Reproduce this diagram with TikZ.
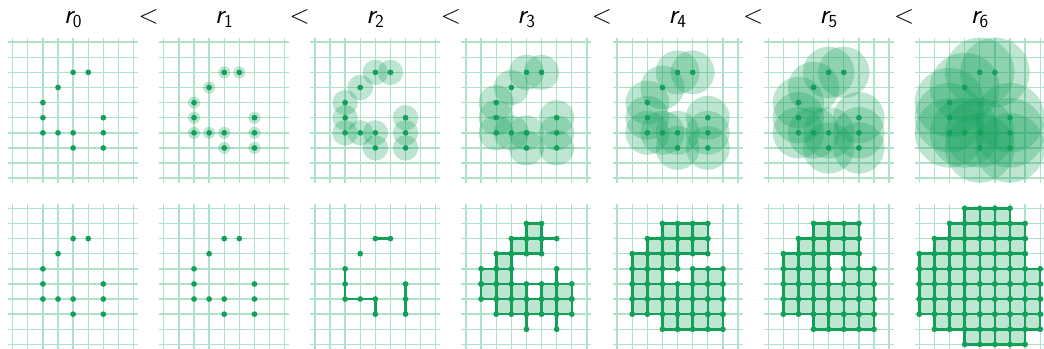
\documentclass[tikz,border=0pt]{standalone}
\definecolor{ptgreen}{HTML}{12A05A}
\definecolor{gridgreen}{HTML}{B0E2CA}
\definecolor{cellgreen}{HTML}{BCE6CF}

\begin{document}
\begin{tikzpicture}[
  x=5mm,y=5mm,font=\sffamily\fontsize{26}{30}\selectfont,
  gridline/.style={draw=gridgreen,line width=1.3pt,step=1},
  ball/.style={fill=ptgreen,fill opacity=.28},
  site/.style={fill=ptgreen},
  cellfill/.style={fill=cellgreen},
  celledge/.style={draw=ptgreen,line width=2.4pt,step=1},
  title/.style={anchor=base,inner sep=0pt}
]
\path[use as bounding box] (-0.84,-0.245) rectangle (68.25,22.79);

% grids, top and bottom row
\foreach \k in {0,...,6}
  \foreach \y in {0,11}
    \draw[gridline] (10*\k-0.3,\y-0.3) grid (10*\k+8.3,\y+9.3);

% radii
\foreach \k in {0,...,6}
  \node[title] (r\k) at (10*\k+4,21.24) {\slshape r${}_{\mathsf{\k}}$};
\foreach \k in {1,...,6}
  \node[title] (lt\k) at (10*\k-1,21.24) {$<$};

% balls
\foreach \k/\rad in {1/0.4,2/0.84,3/1.16,4/1.45,5/1.7,6/2.3}
  \foreach \x/\y in {4/7,5/7,3/6,2/5,2/4,2/3,3/3,4/3,6/3,6/4,4/2,6/2}
    \fill[ball] (10*\k+\x,11+\y) circle (\rad);

% loose edges
\draw[celledge] (24,7) -- (25,7) (22,5) -- (22,3) -- (24,3) -- (24,2) (26,4) -- (26,2);
\draw[celledge] (35,7) -- (36,7) (36,4) -- (36,5) (34,2) -- (34,1)
  (36,2) -- (36,1) (34,4) -- (35,4);
\foreach \p in {(36,7),(36,5),(34,1),(36,1)}
  \fill[site] \p circle (0.19);

% cubical complexes, rows as y/from/to
\foreach \k/\runs in {
    3/{7/4/4,6/3/4,5/2/2,4/1/2,3/1/3,3/5/6,2/2/6},
    4/{7/3/5,6/2/5,5/1/3,4/1/2,4/5/6,3/1/6,2/1/6,1/3/6},
    5/{7/3/5,6/2/5,5/1/3,5/5/5,4/1/3,4/5/6,3/1/6,2/1/6,1/3/6},
    6/{8/3/5,7/2/6,6/1/6,5/0/6,4/0/7,3/0/7,2/0/7,1/1/7,0/3/6}} {
  \begin{scope}[shift={(10*\k,0)}]
    \foreach \y/\a/\b in \runs
      \fill[cellfill] (\a,\y) rectangle (\b+1,\y+1);
    \foreach \y/\a/\b in \runs
      \draw[celledge] (\a,\y) grid (\b+1,\y+1);
    \foreach \y/\a/\b in \runs {
      \pgfmathtruncatemacro\c{\b+1}
      \foreach \x in {\a,...,\c}
        \fill[site] (\x,\y) circle (0.19) (\x,\y+1) circle (0.19);
    }
  \end{scope}
}

% sample points
\foreach \k in {0,...,6}
  \foreach \x/\y in {4/7,5/7,3/6,2/5,2/4,2/3,3/3,4/3,6/3,6/4,4/2,6/2}
    \fill[site] (10*\k+\x,11+\y) circle (0.19) (10*\k+\x,\y) circle (0.19);
\end{tikzpicture}
\end{document}
